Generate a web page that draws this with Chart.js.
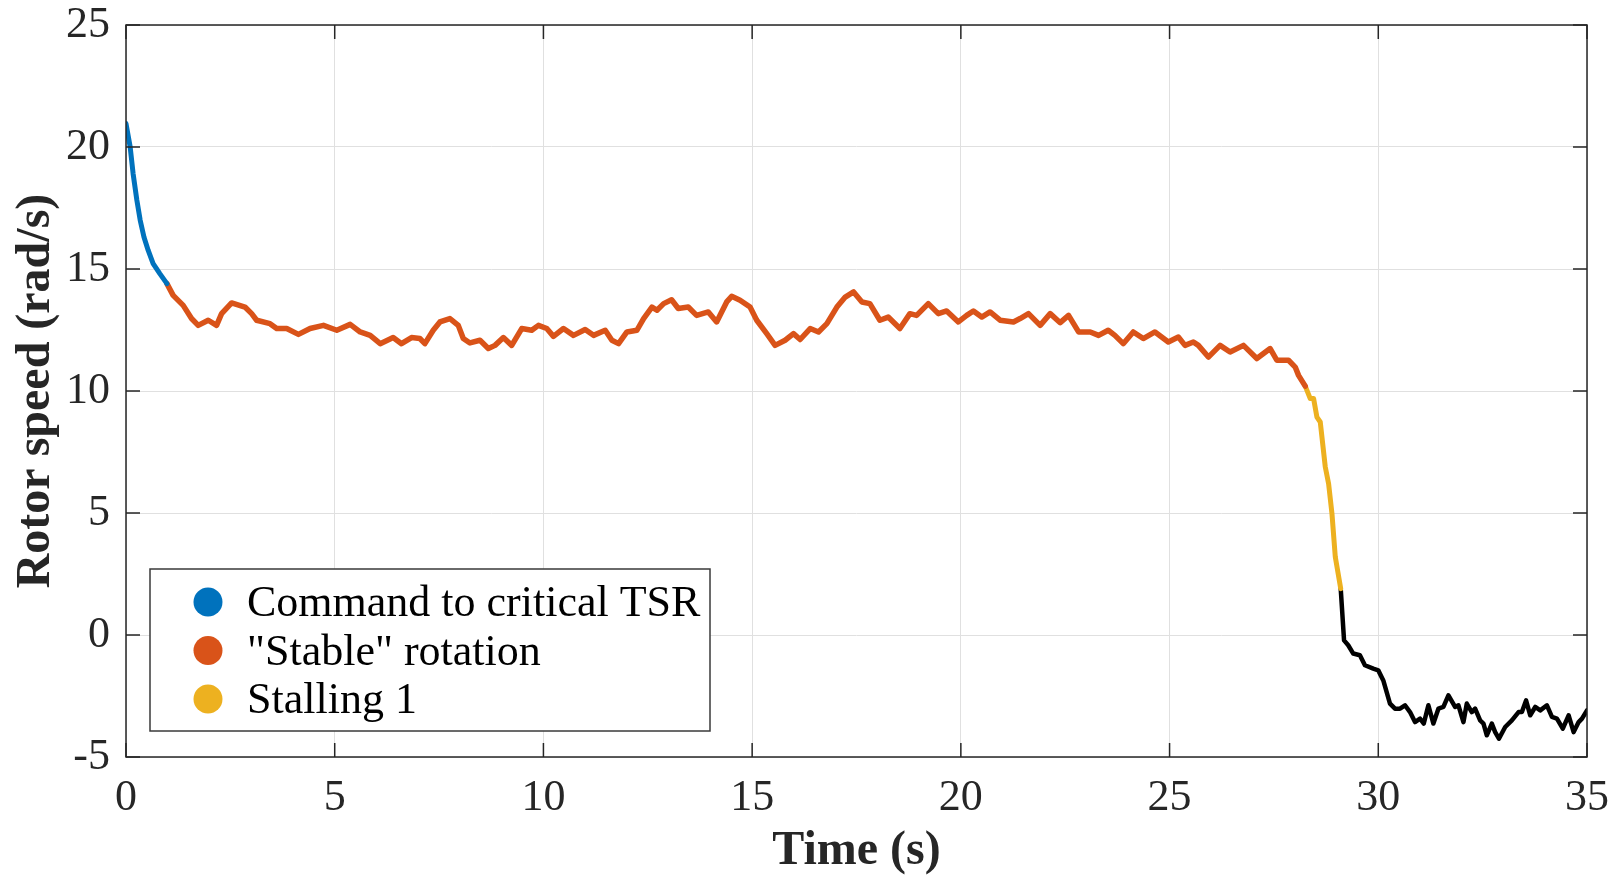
<!DOCTYPE html>
<html>
<head>
<meta charset="utf-8">
<script src="https://cdn.jsdelivr.net/npm/chart.js@4.4.1/dist/chart.umd.min.js"></script>
<style>
  html, body { margin: 0; padding: 0; background: #fff; }
  #wrap { width: 1615px; height: 878px; }
</style>
</head>
<body>
<div id="wrap"><canvas id="rotor" width="1615" height="878"></canvas></div>
<script>
// segment 1: command to critical TSR
const blueT = [0, 0.10, 0.17, 0.26, 0.34, 0.43, 0.53, 0.65, 0.81, 0.98];
const blueV = [20.96, 20.0, 18.91, 17.82, 17.0, 16.31, 15.77, 15.22, 14.81, 14.40];

// segment 2: "stable" rotation
const orangeT = [
    0.98, 1.13, 1.37, 1.57, 1.73, 1.97, 2.17, 2.29, 2.53, 2.85,
    3.01, 3.13, 3.45, 3.61, 3.85, 4.13, 4.41, 4.73, 5.05, 5.37,
    5.61, 5.85, 6.09, 6.40, 6.60, 6.84, 7.04, 7.16, 7.36, 7.52,
    7.76, 7.96, 8.08, 8.24, 8.48, 8.68, 8.84, 9.04, 9.24, 9.48,
    9.72, 9.88, 10.08, 10.24, 10.48, 10.72, 11.00, 11.20, 11.48, 11.64,
    11.80, 12.00, 12.24, 12.40, 12.60, 12.72, 12.88, 13.07, 13.23, 13.47,
    13.67, 13.95, 14.15, 14.39, 14.51, 14.71, 14.95, 15.11, 15.35, 15.55,
    15.79, 15.99, 16.15, 16.39, 16.59, 16.79, 17.03, 17.23, 17.43, 17.63,
    17.82, 18.06, 18.26, 18.54, 18.78, 18.94, 19.22, 19.46, 19.66, 19.94,
    20.14, 20.30, 20.50, 20.70, 20.94, 21.26, 21.42, 21.62, 21.90, 22.14,
    22.38, 22.58, 22.82, 23.10, 23.30, 23.53, 23.69, 23.89, 24.13, 24.37,
    24.65, 24.97, 25.21, 25.37, 25.57, 25.69, 25.93, 26.21, 26.45, 26.77,
    27.09, 27.41, 27.57, 27.85, 28.01, 28.09, 28.25
];
const orangeV = [
    14.40, 13.92, 13.51, 12.97, 12.69, 12.90, 12.69, 13.17, 13.61, 13.44,
    13.17, 12.90, 12.76, 12.56, 12.56, 12.32, 12.56, 12.69, 12.49, 12.73,
    12.42, 12.28, 11.94, 12.19, 11.94, 12.19, 12.15, 11.94, 12.49, 12.83,
    12.97, 12.69, 12.15, 11.97, 12.08, 11.74, 11.87, 12.19, 11.87, 12.56,
    12.49, 12.69, 12.56, 12.24, 12.56, 12.28, 12.52, 12.28, 12.49, 12.08,
    11.94, 12.42, 12.49, 12.97, 13.44, 13.31, 13.58, 13.74, 13.38, 13.44,
    13.10, 13.24, 12.83, 13.65, 13.88, 13.72, 13.44, 12.90, 12.35, 11.87,
    12.08, 12.35, 12.11, 12.56, 12.42, 12.76, 13.44, 13.85, 14.06, 13.65,
    13.58, 12.90, 13.03, 12.56, 13.17, 13.10, 13.58, 13.17, 13.28, 12.83,
    13.10, 13.28, 13.03, 13.24, 12.90, 12.83, 12.97, 13.17, 12.69, 13.17,
    12.80, 13.10, 12.42, 12.42, 12.28, 12.49, 12.28, 11.94, 12.42, 12.15,
    12.42, 12.01, 12.21, 11.87, 12.01, 11.87, 11.39, 11.87, 11.60, 11.87,
    11.33, 11.74, 11.26, 11.26, 10.98, 10.64, 10.20
];

// segment 3: stalling 1
const yellowT = [28.25, 28.37, 28.45, 28.53, 28.61, 28.73, 28.81, 28.89, 28.97, 29.10];
const yellowV = [10.20, 9.69, 9.69, 8.93, 8.73, 6.89, 6.20, 4.98, 3.20, 1.90];

// segment 4: after stall (not in legend)
const blackT = [
    29.10, 29.18, 29.28, 29.40, 29.56, 29.68, 29.88, 30.00, 30.12, 30.28,
    30.40, 30.52, 30.64, 30.76, 30.88, 31.00, 31.09, 31.20, 31.32, 31.44,
    31.56, 31.68, 31.84, 31.92, 32.04, 32.12, 32.24, 32.32, 32.44, 32.52,
    32.60, 32.72, 32.80, 32.89, 33.04, 33.20, 33.36, 33.44, 33.54, 33.64,
    33.76, 33.88, 34.04, 34.16, 34.28, 34.42, 34.56, 34.68, 34.80, 34.88,
    35.00
];
const blackV = [
    1.90, -0.22, -0.42, -0.76, -0.83, -1.24, -1.38, -1.45, -1.86, -2.81,
    -3.02, -3.02, -2.88, -3.16, -3.57, -3.43, -3.63, -2.88, -3.63, -3.02,
    -2.95, -2.47, -2.95, -2.88, -3.57, -2.81, -3.16, -3.02, -3.50, -3.63,
    -4.11, -3.63, -3.98, -4.25, -3.77, -3.50, -3.16, -3.16, -2.68, -3.29,
    -2.95, -3.09, -2.88, -3.36, -3.43, -3.84, -3.29, -3.98, -3.57, -3.43,
    -3.09
];

const xTicks = [0, 35, 5];   // min, max, step
const yTicks = [-5, 25, 5];

const SERIF = '"Liberation Serif", "Times New Roman", serif';
const AXIS_COLOR = '#262626';
const GRID_COLOR = '#e0e0e0';

function toPoints(ts, vs) {
    return ts.map((t, i) => ({ x: t, y: vs[i] }));
}

function seg(label, ts, vs, color, width) {
    return {
        label: label,
        data: toPoints(ts, vs),
        borderColor: color,
        backgroundColor: color,
        borderWidth: width,
        pointRadius: 0,
        tension: 0,
        borderJoinStyle: 'round',
        borderCapStyle: 'round',
        fill: false
    };
}

// box around the axes plus inward ticks on all four sides (MATLAB look)
const boxPlugin = {
    id: 'boxTicks',
    afterDraw(chart) {
        const { ctx, chartArea: a, scales } = chart;
        const len = 14;
        ctx.save();
        ctx.strokeStyle = AXIS_COLOR;
        ctx.lineWidth = 1.5;
        ctx.beginPath();
        scales.x.ticks.forEach(t => {
            const px = scales.x.getPixelForValue(t.value);
            ctx.moveTo(px, a.bottom); ctx.lineTo(px, a.bottom - len);
            ctx.moveTo(px, a.top); ctx.lineTo(px, a.top + len);
        });
        scales.y.ticks.forEach(t => {
            const py = scales.y.getPixelForValue(t.value);
            ctx.moveTo(a.left, py); ctx.lineTo(a.left + len, py);
            ctx.moveTo(a.right, py); ctx.lineTo(a.right - len, py);
        });
        ctx.stroke();
        ctx.strokeRect(a.left, a.top, a.right - a.left, a.bottom - a.top);
        ctx.restore();
    }
};

// legend inside the axes, lower left
const legendPlugin = {
    id: 'boxLegend',
    afterDraw(chart) {
        const { ctx } = chart;
        const items = chart.data.datasets.filter(d => d.label);
        const x0 = 150, y0 = 569, w = 560, h = 162;
        ctx.save();
        ctx.fillStyle = '#fff';
        ctx.fillRect(x0, y0, w, h);
        ctx.strokeStyle = '#3a3a3a';
        ctx.lineWidth = 1.5;
        ctx.strokeRect(x0, y0, w, h);
        ctx.font = '44px ' + SERIF;
        ctx.textBaseline = 'alphabetic';
        items.forEach((d, i) => {
            const cy = y0 + 33 + i * 48.5;
            ctx.fillStyle = d.borderColor;
            ctx.beginPath();
            ctx.arc(x0 + 58, cy, 14.5, 0, Math.PI * 2);
            ctx.fill();
            ctx.fillStyle = '#000';
            ctx.fillText(d.label, x0 + 97, cy + 14);
        });
        ctx.restore();
    }
};

new Chart(document.getElementById('rotor'), {
    type: 'line',
    data: {
        datasets: [
            seg('Command to critical TSR', blueT, blueV, '#0072BD', 5),
            seg('"Stable" rotation', orangeT, orangeV, '#D95319', 5.5),
            seg('Stalling 1', yellowT, yellowV, '#EDB120', 5),
            seg('', blackT, blackV, '#000000', 4.5)
        ]
    },
    options: {
        responsive: false,
        animation: false,
        layout: { padding: { top: 25, right: 28, left: 0, bottom: 0 } },
        plugins: {
            legend: { display: false },
            tooltip: { enabled: false }
        },
        scales: {
            x: {
                type: 'linear',
                min: xTicks[0], max: xTicks[1],
                ticks: {
                    stepSize: xTicks[2],
                    color: AXIS_COLOR,
                    padding: 19,
                    maxRotation: 0,
                    font: { family: SERIF, size: 44, lineHeight: 1 }
                },
                grid: { color: GRID_COLOR, lineWidth: 1, drawTicks: false },
                border: { display: false },
                title: {
                    display: true,
                    text: 'Time (s)',
                    color: AXIS_COLOR,
                    font: { family: SERIF, size: 48, weight: 'bold', lineHeight: 1.1 },
                    padding: { top: 0, bottom: 0 }
                },
                afterFit(s) {
                    s.height = 121;
                    s.paddingLeft = 0;
                    s.paddingRight = 0;
                }
            },
            y: {
                type: 'linear',
                min: yTicks[0], max: yTicks[1],
                ticks: {
                    stepSize: yTicks[2],
                    color: AXIS_COLOR,
                    padding: 16,
                    font: { family: SERIF, size: 44, lineHeight: 1 }
                },
                grid: { color: GRID_COLOR, lineWidth: 1, drawTicks: false },
                border: { display: false },
                title: {
                    display: true,
                    text: 'Rotor speed (rad/s)',
                    color: AXIS_COLOR,
                    font: { family: SERIF, size: 48, weight: 'bold', lineHeight: 1.1 },
                    padding: { top: 10, bottom: 0 }
                },
                afterFit(s) {
                    s.width = 126;
                    s.paddingTop = 0;
                    s.paddingBottom = 0;
                }
            }
        }
    },
    plugins: [boxPlugin, legendPlugin]
});
</script>
</body>
</html>
